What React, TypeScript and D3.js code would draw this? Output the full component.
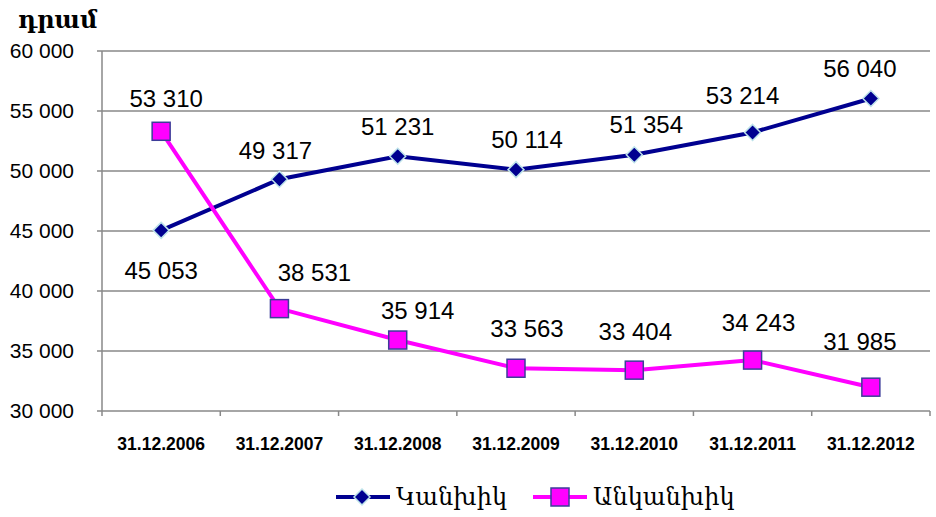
import React from "react";
import * as d3 from "d3";

const dates = ["31.12.2006", "31.12.2007", "31.12.2008", "31.12.2009", "31.12.2010", "31.12.2011", "31.12.2012"];
const cash = [45053, 49317, 51231, 50114, 51354, 53214, 56040];
const nonCash = [53310, 38531, 35914, 33563, 33404, 34243, 31985];
const yTicks = [30000, 35000, 40000, 45000, 50000, 55000, 60000];
const seriesNames = ["Կանխիկ", "Անկանխիկ"];

// hand-placed data label nudges [dx, dy] like in the original
const cashNudge = [[0, 40], [-4, -29], [0, -30], [11, -30], [12, -30], [-10, -37], [-11, -30]];
const nonCashNudge = [[5, -33], [35, -36], [20, -29], [11, -40], [1, -39], [6, -37], [-11, -46]];

const W = 936;
const H = 517;
const m = { top: 51, right: 6, bottom: 106, left: 102 };

const fmt = (v: number) => d3.format(",")(v).replace(/,/g, " ");

const diamond = (px: number, py: number, r: number) =>
  `M${px},${py - r}L${px + r},${py}L${px},${py + r}L${px - r},${py}Z`;

export default function App() {
  const x = d3.scaleBand<string>().domain(dates).range([m.left, W - m.right]);
  const y = d3.scaleLinear().domain([30000, 60000]).range([H - m.bottom, m.top]);
  const cx = (d: string) => (x(d) as number) + x.bandwidth() / 2;
  const line = d3.line<number>().x((_, i) => cx(dates[i])).y((v) => y(v));
  const blue = "#000090";
  const pink = "#ff00ff";
  const grid = "#888";
  const y0 = y(30000);

  return (
    <svg width={W} height={H} style={{ position: "absolute", left: 0, top: 0, background: "#fff" }}>
      <text x={18} y={28} fontFamily="DejaVu Serif" fontWeight="bold" fontSize={24}>դրամ</text>
      {yTicks.map((t) => (
        <g key={t}>
          <line x1={m.left - 5} x2={W - m.right} y1={y(t)} y2={y(t)} stroke={grid} strokeWidth={1.5} />
          <text x={74} y={y(t)} dy="0.35em" textAnchor="end" fontFamily="Liberation Sans" fontSize={21}>
            {fmt(t)}
          </text>
        </g>
      ))}
      <line x1={m.left} x2={m.left} y1={m.top} y2={y0} stroke={grid} strokeWidth={1.5} />
      {dates.concat([""]).map((d, i) => {
        const xx = m.left + i * x.bandwidth();
        return <line key={i} x1={xx} x2={xx} y1={y0} y2={y0 + 5} stroke={grid} strokeWidth={1.5} />;
      })}
      {dates.map((d) => (
        <text key={d} x={cx(d)} y={y0 + 39} textAnchor="middle" fontFamily="Liberation Sans" fontWeight="bold" fontSize={17.5}>
          {d}
        </text>
      ))}

      <path d={line(cash) || ""} fill="none" stroke={blue} strokeWidth={4} />
      <path d={line(nonCash) || ""} fill="none" stroke={pink} strokeWidth={4} />

      {cash.map((v, i) => {
        const px = cx(dates[i]);
        const py = y(v);
        return (
          <g key={"c" + i}>
            <path d={diamond(px, py, 8)} fill={blue} stroke="#bde3ea" strokeWidth={1.5} />
            <text x={px + cashNudge[i][0]} y={py + cashNudge[i][1]} dy="0.35em" textAnchor="middle" fontFamily="Liberation Sans" fontSize={24}>
              {fmt(v)}
            </text>
          </g>
        );
      })}
      {nonCash.map((v, i) => {
        const px = cx(dates[i]);
        const py = y(v);
        return (
          <g key={"n" + i}>
            <rect x={px - 9} y={py - 9} width={18} height={18} fill={pink} stroke="#3d3d99" strokeWidth={1.5} />
            <text x={px + nonCashNudge[i][0]} y={py + nonCashNudge[i][1]} dy="0.35em" textAnchor="middle" fontFamily="Liberation Sans" fontSize={24}>
              {fmt(v)}
            </text>
          </g>
        );
      })}

      {/* legend */}
      <g>
        <line x1={336} x2={390} y1={497} y2={497} stroke={blue} strokeWidth={4} />
        <path d={diamond(362, 497, 8)} fill={blue} stroke="#bde3ea" strokeWidth={1.5} />
        <text x={396} y={497} dy="0.35em" fontFamily="DejaVu Serif" fontSize={24}>{seriesNames[0]}</text>
        <line x1={533} x2={587} y1={497} y2={497} stroke={pink} strokeWidth={4} />
        <rect x={551} y={488} width={18} height={18} fill={pink} stroke="#3d3d99" strokeWidth={1.5} />
        <text x={593} y={497} dy="0.35em" fontFamily="DejaVu Serif" fontSize={24}>{seriesNames[1]}</text>
      </g>
    </svg>
  );
}
